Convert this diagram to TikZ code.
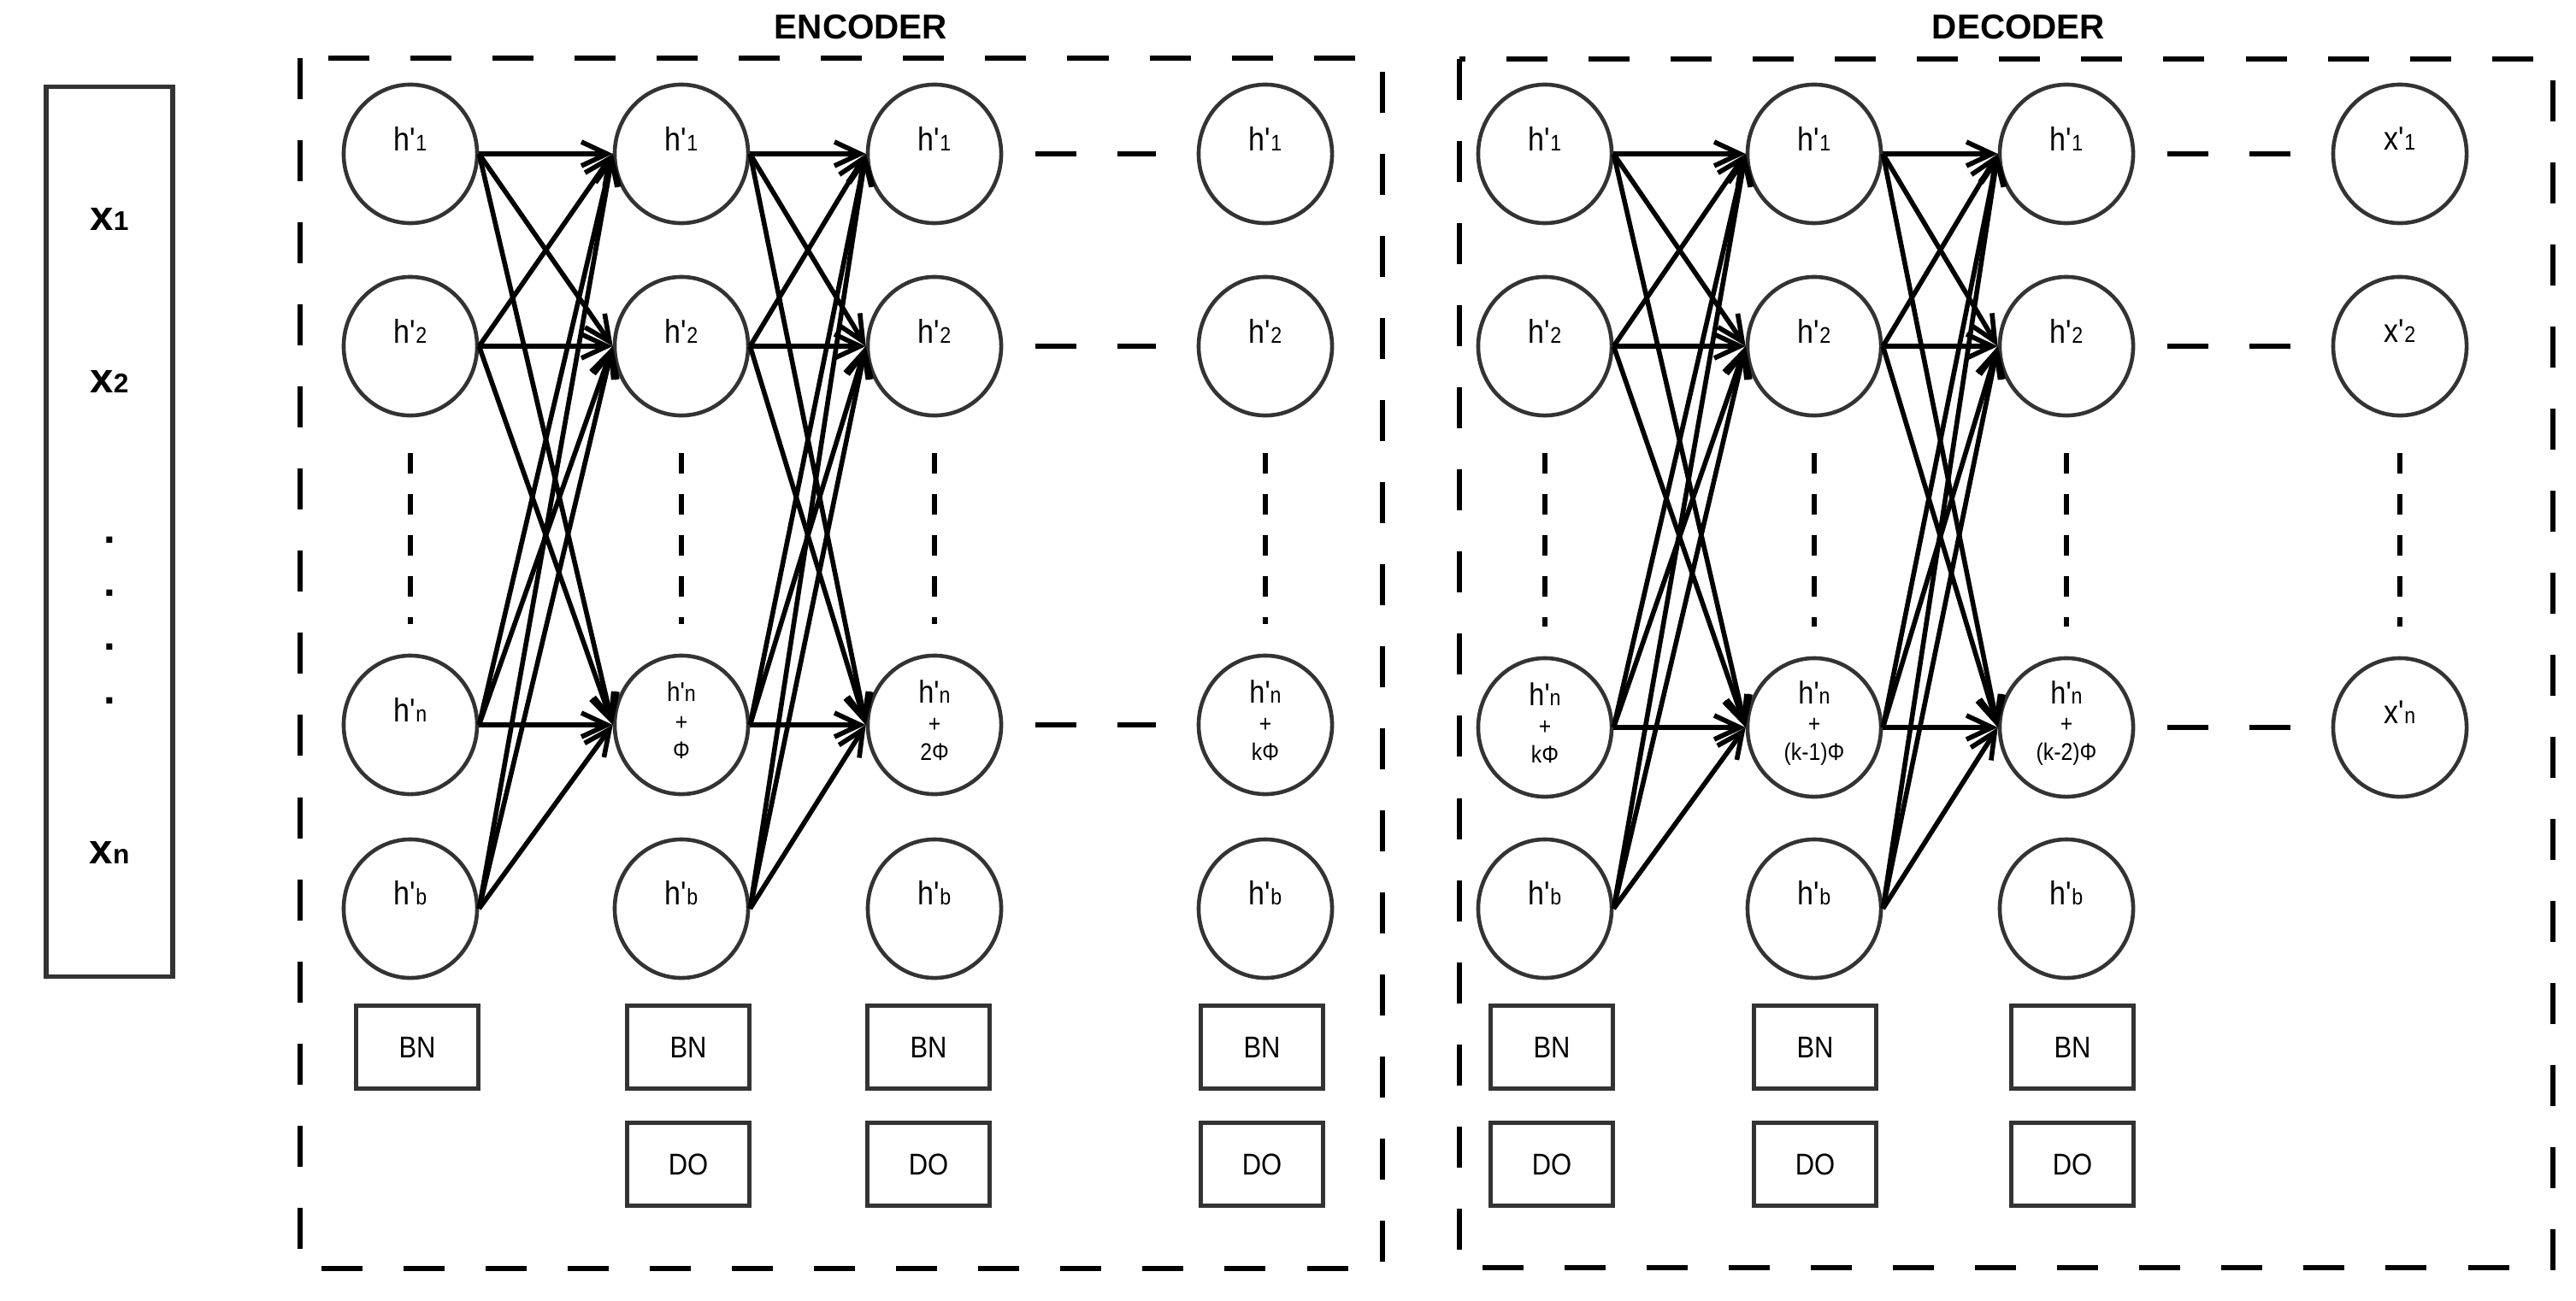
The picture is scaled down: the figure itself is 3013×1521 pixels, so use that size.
\documentclass[tikz,border=0pt]{standalone}
\usepackage{fontspec}
\setmainfont{Liberation Sans}[Ligatures=TeXOff]
\newfontfamily\narrowfont{Liberation Sans}[FakeStretch=0.88, Ligatures=TeXOff]
\usetikzlibrary{arrows.meta, shapes.geometric}
\definecolor{rim}{HTML}{333333}
\newcommand{\hl}[1]{h'{\fontsize{7.5}{8}\selectfont #1}}
\newcommand{\xl}[1]{x'{\fontsize{7.5}{8}\selectfont #1}}
\newcommand{\xin}[1]{x{\fontsize{9}{9}\selectfont #1}}
\newcommand{\sm}{\fontsize{8}{9}\selectfont}

\begin{document}
\begin{tikzpicture}[x=0.01cm, y=-0.01cm,
  neuron/.style={draw=rim, line width=1.3pt, ellipse, inner sep=0pt,
    minimum width=1.56cm, minimum height=1.62cm},
  nlabel/.style={label={[font=\narrowfont\fontsize{11}{12}\selectfont, yshift=0.18cm]center:{#1}}},
  stack/.style={label={[font=\narrowfont\fontsize{10.5}{9.5}\selectfont, align=center, yshift=0.05cm]center:{#1}}},
  layerbox/.style={draw=rim, line width=1.3pt, minimum width=1.43cm, minimum height=0.97cm,
    font=\narrowfont\fontsize{10}{11}\selectfont},
  wire/.style={line width=1.6pt, -{Straight Barb[length=3mm, width=2.8mm]}},
  gap/.style={line width=1.5pt, dash pattern=on 0.48cm off 0.48cm, shorten <=0.38cm, shorten >=0.48cm},
  vdots/.style={line width=1.5pt, dash pattern=on 0.24cm off 0.24cm, shorten <=0.42cm, shorten >=0.35cm},
  areabox/.style={line width=1.6pt, dash pattern=on 0.48cm off 0.48cm},
  title/.style={font=\bfseries\fontsize{11.5}{13}\selectfont},
  bigx/.style={font=\bfseries\fontsize{14}{16}\selectfont}]
  \useasboundingbox (0,0) rectangle (3013,1521);

  % input vector
  \node[draw=rim, line width=1.5pt, minimum width=1.48cm, minimum height=10.41cm] (IN) at (128,622) {};
  \node[bigx] (X1) at (128,256) {\xin{1}};
  \node[bigx] (X2) at (128,446) {\xin{2}};
  \node[bigx] (P1) at (128,632) {.};
  \node[bigx] (P2) at (128,694) {.};
  \node[bigx] (P3) at (128,757) {.};
  \node[bigx] (P4) at (128,820) {.};
  \node[bigx] (XN) at (128,997) {\xin{n}};

  % frames
  \draw[areabox] (351,68) rectangle (1617,1484);
  \draw[areabox] (1707,69) rectangle (2986,1483);
  \node[title] (ENC) at (1007,32) {ENCODER};
  \node[title] (DEC) at (2361,32) {DECODER};

  % encoder
  \node[neuron, nlabel=\hl{1}] (E11) at (480,180) {};
  \node[neuron, nlabel=\hl{2}] (E12) at (480,405) {};
  \node[neuron, nlabel=\hl{n}] (E1n) at (480,848) {};
  \node[neuron, nlabel=\hl{b}] (E1b) at (480,1063) {};
  \node[neuron, nlabel=\hl{1}] (E21) at (797,180) {};
  \node[neuron, nlabel=\hl{2}] (E22) at (797,405) {};
  \node[neuron, stack={{\fontsize{9}{9}\selectfont\hl{n}}\\{\sm +}\\{\sm Φ}}] (E2n) at (797,848) {};
  \node[neuron, nlabel=\hl{b}] (E2b) at (797,1063) {};
  \node[neuron, nlabel=\hl{1}] (E31) at (1093,180) {};
  \node[neuron, nlabel=\hl{2}] (E32) at (1093,405) {};
  \node[neuron, stack={\hl{n}\\{\sm +}\\{\sm 2Φ}}] (E3n) at (1093,848) {};
  \node[neuron, nlabel=\hl{b}] (E3b) at (1093,1063) {};
  \node[neuron, nlabel=\hl{1}] (E41) at (1480,180) {};
  \node[neuron, nlabel=\hl{2}] (E42) at (1480,405) {};
  \node[neuron, stack={\hl{n}\\{\sm +}\\{\sm kΦ}}] (E4n) at (1480,848) {};
  \node[neuron, nlabel=\hl{b}] (E4b) at (1480,1063) {};

  \node[layerbox] (EBN1) at (488,1225) {BN};
  \node[layerbox] (EBN2) at (805,1225) {BN};
  \node[layerbox] (EBN3) at (1086,1225) {BN};
  \node[layerbox] (EBN4) at (1476,1225) {BN};
  \node[layerbox] (EDO2) at (805,1362) {DO};
  \node[layerbox] (EDO3) at (1086,1362) {DO};
  \node[layerbox] (EDO4) at (1476,1362) {DO};

  % decoder
  \node[neuron, nlabel=\hl{1}] (D11) at (1807,180) {};
  \node[neuron, nlabel=\hl{2}] (D12) at (1807,405) {};
  \node[neuron, stack={\hl{n}\\{\sm +}\\{\sm kΦ}}] (D1n) at (1807,851) {};
  \node[neuron, nlabel=\hl{b}] (D1b) at (1807,1063) {};
  \node[neuron, nlabel=\hl{1}] (D21) at (2122,180) {};
  \node[neuron, nlabel=\hl{2}] (D22) at (2122,405) {};
  \node[neuron, stack={\hl{n}\\{\sm +}\\{\sm (k-1)Φ}}] (D2n) at (2122,851) {};
  \node[neuron, nlabel=\hl{b}] (D2b) at (2122,1063) {};
  \node[neuron, nlabel=\hl{1}] (D31) at (2417,180) {};
  \node[neuron, nlabel=\hl{2}] (D32) at (2417,405) {};
  \node[neuron, stack={\hl{n}\\{\sm +}\\{\sm (k-2)Φ}}] (D3n) at (2417,851) {};
  \node[neuron, nlabel=\hl{b}] (D3b) at (2417,1063) {};
  \node[neuron, nlabel=\xl{1}] (D41) at (2807,180) {};
  \node[neuron, nlabel=\xl{2}] (D42) at (2807,405) {};
  \node[neuron, nlabel=\xl{n}] (D4n) at (2807,851) {};

  \node[layerbox] (DBN1) at (1815,1225) {BN};
  \node[layerbox] (DBN2) at (2123,1225) {BN};
  \node[layerbox] (DBN3) at (2424,1225) {BN};
  \node[layerbox] (DDO1) at (1815,1362) {DO};
  \node[layerbox] (DDO2) at (2123,1362) {DO};
  \node[layerbox] (DDO3) at (2424,1362) {DO};

  % elided units
  \draw[vdots] (E12) -- (E1n);
  \draw[vdots] (E22) -- (E2n);
  \draw[vdots] (E32) -- (E3n);
  \draw[vdots] (E42) -- (E4n);
  \draw[vdots] (D12) -- (D1n);
  \draw[vdots] (D22) -- (D2n);
  \draw[vdots] (D32) -- (D3n);
  \draw[vdots] (D42) -- (D4n);

  \draw[gap] (E31.east) -- (E41.west);
  \draw[gap] (E32.east) -- (E42.west);
  \draw[gap] (E3n.east) -- (E4n.west);
  \draw[gap] (D31.east) -- (D41.west);
  \draw[gap] (D32.east) -- (D42.west);
  \draw[gap] (D3n.east) -- (D4n.west);

  % encoder weights
  \draw[wire] (E11.east) -- (E21.west);
  \draw[wire] (E11.east) -- (E22.west);
  \draw[wire] (E11.east) -- (E2n.west);
  \draw[wire] (E12.east) -- (E21.west);
  \draw[wire] (E12.east) -- (E22.west);
  \draw[wire] (E12.east) -- (E2n.west);
  \draw[wire] (E1n.east) -- (E21.west);
  \draw[wire] (E1n.east) -- (E22.west);
  \draw[wire] (E1n.east) -- (E2n.west);
  \draw[wire] (E1b.east) -- (E21.west);
  \draw[wire] (E1b.east) -- (E22.west);
  \draw[wire] (E1b.east) -- (E2n.west);
  \draw[wire] (E21.east) -- (E31.west);
  \draw[wire] (E21.east) -- (E32.west);
  \draw[wire] (E21.east) -- (E3n.west);
  \draw[wire] (E22.east) -- (E31.west);
  \draw[wire] (E22.east) -- (E32.west);
  \draw[wire] (E22.east) -- (E3n.west);
  \draw[wire] (E2n.east) -- (E31.west);
  \draw[wire] (E2n.east) -- (E32.west);
  \draw[wire] (E2n.east) -- (E3n.west);
  \draw[wire] (E2b.east) -- (E31.west);
  \draw[wire] (E2b.east) -- (E32.west);
  \draw[wire] (E2b.east) -- (E3n.west);

  % decoder weights
  \draw[wire] (D11.east) -- (D21.west);
  \draw[wire] (D11.east) -- (D22.west);
  \draw[wire] (D11.east) -- (D2n.west);
  \draw[wire] (D12.east) -- (D21.west);
  \draw[wire] (D12.east) -- (D22.west);
  \draw[wire] (D12.east) -- (D2n.west);
  \draw[wire] (D1n.east) -- (D21.west);
  \draw[wire] (D1n.east) -- (D22.west);
  \draw[wire] (D1n.east) -- (D2n.west);
  \draw[wire] (D1b.east) -- (D21.west);
  \draw[wire] (D1b.east) -- (D22.west);
  \draw[wire] (D1b.east) -- (D2n.west);
  \draw[wire] (D21.east) -- (D31.west);
  \draw[wire] (D21.east) -- (D32.west);
  \draw[wire] (D21.east) -- (D3n.west);
  \draw[wire] (D22.east) -- (D31.west);
  \draw[wire] (D22.east) -- (D32.west);
  \draw[wire] (D22.east) -- (D3n.west);
  \draw[wire] (D2n.east) -- (D31.west);
  \draw[wire] (D2n.east) -- (D32.west);
  \draw[wire] (D2n.east) -- (D3n.west);
  \draw[wire] (D2b.east) -- (D31.west);
  \draw[wire] (D2b.east) -- (D32.west);
  \draw[wire] (D2b.east) -- (D3n.west);
\end{tikzpicture}
\end{document}
